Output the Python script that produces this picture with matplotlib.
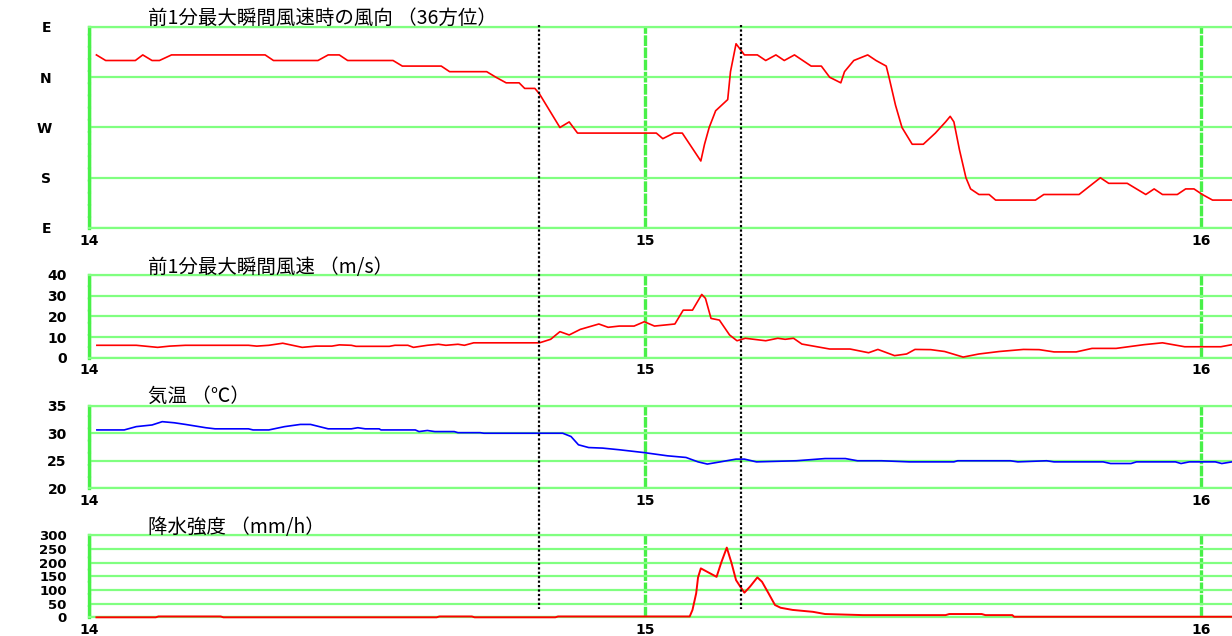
import matplotlib
matplotlib.use("Agg")
import matplotlib.pyplot as plt
from matplotlib.lines import Line2D
from matplotlib.transforms import blended_transform_factory
import numpy as np

plt.rcParams["font.family"] = ["Noto Sans CJK JP", "DejaVu Sans"]

# === データ (14時からの経過分) ===
dir_min = [0.8, 1.8, 5.0, 5.8, 6.8, 7.6, 8.9, 19.0, 19.9, 24.7, 25.8, 27.0, 27.9, 32.8,
           33.8, 38.0, 38.9, 42.9, 43.9, 45.0, 46.4, 47.0, 48.1, 48.6, 49.7, 50.8, 51.8,
           52.7, 61.2, 61.9, 63.1, 64.0, 66.0, 66.4, 66.9, 67.6, 68.9, 69.2, 69.8, 70.7,
           72.1, 73.0, 74.1, 75.0, 76.1, 77.9, 79.0, 79.9, 81.1, 81.5, 82.0, 82.5, 84.0,
           84.9, 86.0, 86.3, 87.0, 87.7, 88.8, 90.0, 91.3, 92.4, 92.9, 93.3, 93.9, 94.6,
           95.1, 96.0, 97.1, 97.8, 102.1, 103.0, 106.8, 109.1, 110.0, 112.0, 114.0, 114.9,
           115.8, 117.4, 118.3, 119.2, 120.1, 121.2, 123.3]
dir_deg = [40, 30, 30, 40, 30, 30, 40, 40, 30, 30, 40, 40, 30, 30,
           20, 20, 10, 10, 360, 350, 350, 340, 340, 330, 300, 270, 280,
           260, 260, 250, 260, 260, 210, 240, 270, 300, 320, 10, 60, 40,
           40, 30, 40, 30, 40, 20, 20, 360, 350, 10, 20, 30, 40,
           30, 20, 360, 310, 270, 240, 240, 260, 280, 290, 280, 230, 180,
           160, 150, 150, 140, 140, 150, 150, 180, 170, 170, 150, 160,
           150, 150, 160, 160, 150, 140, 140]

wind_min = [0.85, 5.1, 7.4, 8.7, 10.4, 17.2, 18.1, 19.4, 20.9, 23.0, 24.5, 26.2, 27.0,
            28.3, 28.8, 32.4, 33.0, 34.4, 35.0, 36.5, 37.7, 38.5, 39.8, 40.5, 41.5, 48.6,
            49.8, 50.8, 51.8, 53.0, 55.0, 56.0, 57.2, 58.8, 59.9, 61.0, 63.2, 64.1, 65.1,
            66.1, 66.5, 67.1, 68.0, 69.1, 69.9, 70.8, 73.0, 74.3, 75.1, 76.0, 76.9, 79.9,
            82.1, 84.1, 85.1, 86.9, 88.2, 89.1, 90.8, 92.3, 94.3, 96.0, 98.2, 100.8, 102.5,
            104.1, 106.5, 108.2, 110.8, 113.8, 115.8, 118.2, 122.1, 123.3]
wind_ms = [6, 6, 5, 5.6, 6, 6, 5.6, 6, 7, 5, 5.6, 5.6, 6.2,
           6, 5.5, 5.5, 6, 6, 5, 6, 6.5, 6, 6.5, 6, 7.2, 7.2,
           8.9, 12.6, 11, 13.7, 16.3, 14.7, 15.3, 15.3, 17.4, 15.3, 16.3, 23, 23,
           30.6, 28.7, 19, 18.2, 11, 8.2, 9.4, 8.2, 9.4, 8.9, 9.4, 6.6, 4.2,
           4.2, 2.4, 4, 1, 1.8, 4, 3.9, 3, 0.3, 1.8, 3, 4, 3.9,
           2.8, 2.8, 4.5, 4.5, 6.3, 7.2, 5.3, 5.3, 6.3]

temp_min = [0.85, 3.8, 5.1, 6.8, 7.9, 9.2, 10.4, 12.6, 13.6, 17.2, 17.7, 19.4, 21.1, 22.8,
            23.9, 25.8, 28.3, 29.0, 29.8, 31.3, 31.5, 35.2, 35.6, 36.5, 37.3, 39.4, 39.8,
            42.2, 42.6, 51.1, 52.0, 52.8, 53.9, 55.4, 57.2, 59.8, 62.4, 64.4, 65.7, 66.7,
            68.1, 69.8, 70.7, 72.0, 76.3, 79.4, 81.6, 82.9, 85.5, 88.5, 93.3, 93.7, 99.4,
            100.2, 103.3, 104.1, 109.4, 110.2, 112.4, 113.0, 117.2, 117.8, 118.7, 121.5,
            122.2, 123.3]
temp_c = [30.6, 30.6, 31.2, 31.5, 32.1, 31.9, 31.6, 31.0, 30.8, 30.8, 30.6, 30.6, 31.2, 31.6,
          31.6, 30.8, 30.8, 31.0, 30.8, 30.8, 30.6, 30.6, 30.3, 30.5, 30.3, 30.3, 30.1,
          30.1, 30.0, 30.0, 29.4, 27.9, 27.4, 27.3, 27.0, 26.5, 25.9, 25.6, 24.8, 24.4,
          24.8, 25.3, 25.3, 24.8, 25.0, 25.4, 25.4, 25.0, 25.0, 24.8, 24.8, 25.0, 25.0,
          24.8, 25.0, 24.8, 24.8, 24.5, 24.5, 24.8, 24.8, 24.5, 24.8, 24.8,
          24.5, 24.8]

rain_min = [0.8, 7.2, 7.5, 14.2, 14.5, 37.5, 37.8, 41.3, 41.6, 50.3, 50.6, 64.8, 65.1, 65.5,
            65.7, 66.0, 67.7, 68.2, 68.8, 69.3, 69.8, 70.3, 70.7, 71.3, 72.1, 72.6, 73.3,
            74.0, 74.6, 75.9, 78.1, 79.4, 83.5, 92.4, 92.8, 96.3, 96.7, 99.6, 99.8, 123.3]
rain_mmh = [0, 0, 3, 3, 0, 0, 3, 3, 0, 0, 3, 3, 27, 88,
            146, 179, 148, 200, 255, 200, 136, 110, 90, 112, 146, 130, 88,
            45, 35, 27, 20, 12, 8, 8, 12, 12, 8, 8, 2, 2]

event_min = [48.5, 70.3]

hour_ticks = [14, 15, 16]
dir_ticks = [90, 180, 270, 360, 450]
dir_labels = ["E", "S", "W", "N", "E"]

W, H = 1232, 636
x_end = 14 + 123.3 / 60

GRID_H = "#80ff80"
GRID_V = "#48f048"
V_DASH = (0, (3.2, 0.45))


def to_hour(mins):
    return 14 + np.asarray(mins) / 60.0


def unwrap_dir(deg):
    d = np.asarray(deg, dtype=float)
    return np.where(d < 90, d + 360, d)


def make_axes(fig, top_px, bot_px, ylim, yticks, ylabels, label_pad):
    ax = fig.add_axes([89 / W, 1 - bot_px / H, 1 - 89 / W, (bot_px - top_px) / H])
    ax.set_xlim(14, x_end)
    ax.set_ylim(*ylim)
    ax.set_xticks(hour_ticks)
    ax.set_xticklabels([str(h) for h in hour_ticks])
    ax.set_yticks(yticks)
    ax.set_yticklabels(ylabels)
    ax.tick_params(length=0, labelsize=10)
    ax.tick_params(axis="y", pad=label_pad)
    ax.tick_params(axis="x", pad=4)
    for lab in ax.get_xticklabels() + ax.get_yticklabels():
        lab.set_fontweight("bold")
        lab.set_family(["DejaVu Sans"])
    ax.yaxis.grid(True, color=GRID_H, lw=1.6)
    ax.xaxis.grid(True, color=GRID_V, lw=2.4, linestyle=V_DASH)
    for s in ("top", "bottom"):
        ax.spines[s].set_color(GRID_H)
        ax.spines[s].set_linewidth(1.6)
    ax.spines["left"].set_color(GRID_V)
    ax.spines["left"].set_linewidth(2.4)
    ax.spines["left"].set_linestyle(V_DASH)
    ax.spines["right"].set_visible(False)
    ax.set_axisbelow(True)
    return ax


fig = plt.figure(figsize=(W / 100, H / 100), dpi=100)

ax1 = make_axes(fig, 27, 228, (90, 450), dir_ticks, dir_labels, 27)
ax1.plot(to_hour(dir_min), unwrap_dir(dir_deg), color="#ff0000", lw=1.2, zorder=3)

ax2 = make_axes(fig, 275, 357.7, (0, 40), [0, 10, 20, 30, 40],
                ["0", "10", "20", "30", "40"], 16)
ax2.plot(to_hour(wind_min), wind_ms, color="#ff0000", lw=1.2, zorder=3)

ax3 = make_axes(fig, 405.7, 488.3, (20, 35), [20, 25, 30, 35],
                ["20", "25", "30", "35"], 16)
ax3.plot(to_hour(temp_min), temp_c, color="#0000ff", lw=1.2, zorder=3)

ax4 = make_axes(fig, 535.3, 617.3, (0, 300), [0, 50, 100, 150, 200, 250, 300],
                ["0", "50", "100", "150", "200", "250", "300"], 16)
ax4.plot(to_hour(rain_min), rain_mmh, color="#ff0000", lw=1.4, zorder=3,
         clip_on=False)
ax4.tick_params(axis="y", labelsize=9.5)

titles = [
    ("前1分最大瞬間風速時の風向 （36方位）", 18),
    ("前1分最大瞬間風速 （m/s）", 267),
    ("気温 （℃）", 396),
    ("降水強度 （mm/h）", 527),
]
for txt, y_px in titles:
    fig.text(148 / W, 1 - y_px / H, txt, ha="left", va="center", fontsize=14)

# 変化時刻の点線
trans = blended_transform_factory(ax1.transData, fig.transFigure)
for m in event_min:
    t = to_hour([m])[0]
    fig.add_artist(Line2D([t, t], [1 - 25 / H, 1 - 609 / H], transform=trans,
                          color="black", lw=1.6, linestyle=(0, (1, 1))))

fig.savefig("out.png", dpi=100)
